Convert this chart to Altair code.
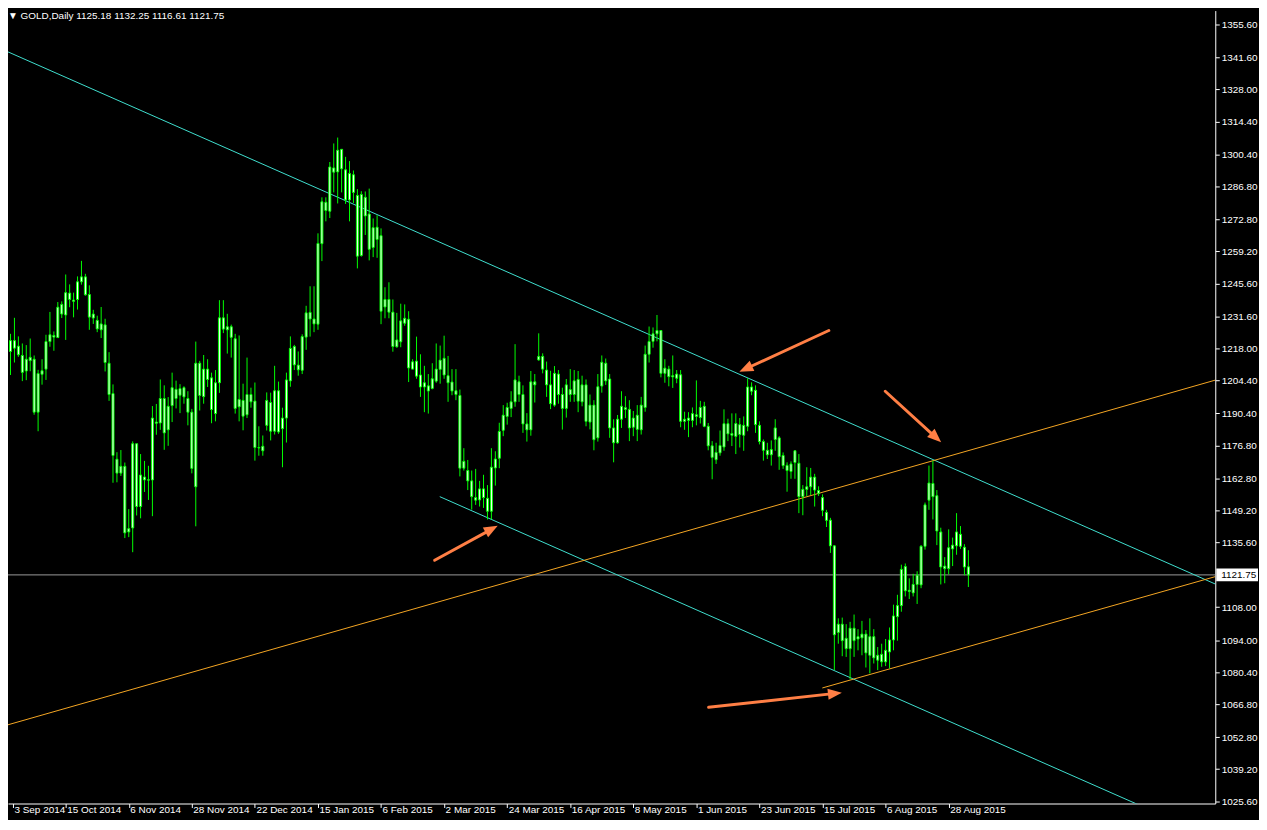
import math
import altair as alt
import pandas as pd

# ---------------- data ----------------
OPEN = [
    1222.6, 1216.7, 1221.3, 1218.95, 1215.0, 1208.4, 1212.8, 1213.4, 1190.9, 1207.0,
    1209.2, 1220.9, 1223.5, 1222.6, 1236.7, 1232.2, 1241.5, 1238.55, 1238.8, 1246.3,
    1248.4, 1240.9, 1230.9, 1229.9, 1225.9, 1228.0, 1211.7, 1198.8, 1170.9, 1165.0,
    1167.9, 1140.0, 1141.7, 1177.5, 1150.8, 1163.35, 1162.2, 1162.1, 1186.7, 1186.3,
    1196.7, 1183.4, 1193.7, 1200.6, 1198.1, 1201.3, 1196.7, 1190.9, 1159.2, 1211.7,
    1197.5, 1209.2, 1205.5, 1190.3, 1203.4, 1231.0, 1225.9, 1227.2, 1222.1, 1193.2,
    1195.9, 1189.8, 1198.4, 1195.6, 1175.9, 1174.5, 1185.3, 1195.0, 1182.8, 1200.0,
    1183.9, 1188.4, 1204.2, 1218.8, 1210.9, 1208.7, 1222.8, 1233.3, 1230.5, 1228.3,
    1262.5, 1280.1, 1276.3, 1294.7, 1293.0, 1302.6, 1293.9, 1281.1, 1291.8, 1283.0,
    1257.5, 1282.2, 1275.1, 1260.9, 1269.5, 1265.9, 1235.6, 1238.8, 1233.4, 1218.7,
    1220.8, 1228.7, 1230.4, 1209.2, 1212.6, 1206.7, 1201.6, 1202.1, 1201.0, 1204.1,
    1209.1, 1213.8, 1206.4, 1203.7, 1200.0, 1198.0, 1167.1, 1166.1, 1161.7, 1154.6,
    1153.6, 1158.3, 1154.3, 1148.8, 1167.2, 1171.3, 1183.2, 1189.1, 1192.5, 1195.3,
    1203.8, 1198.4, 1185.9, 1183.4, 1203.8, 1213.1, 1214.6, 1208.8, 1202.5, 1193.9,
    1207.1, 1198.4, 1192.5, 1200.5, 1198.4, 1204.8, 1195.3, 1202.5, 1186.7, 1193.9,
    1180.0, 1202.0, 1211.7, 1205.0, 1184.2, 1177.9, 1187.9, 1192.8, 1192.1, 1184.5,
    1189.6, 1183.4, 1192.9, 1215.5, 1221.0, 1224.2, 1225.6, 1207.4, 1209.2, 1205.9,
    1207.1, 1206.8, 1187.0, 1188.4, 1187.4, 1189.8, 1188.6, 1193.4, 1184.9, 1176.6,
    1170.7, 1173.6, 1176.1, 1186.0, 1181.8, 1180.6, 1185.6, 1181.1, 1184.9, 1201.6,
    1200.2, 1185.3, 1178.4, 1174.7, 1172.8, 1179.3, 1180.0, 1172.5, 1168.3, 1165.7,
    1169.5, 1169.2, 1155.0, 1158.1, 1159.2, 1163.3, 1157.6, 1154.6, 1148.3, 1145.0,
    1134.1, 1097.3, 1100.8, 1094.8, 1090.4, 1099.1, 1094.5, 1095.0, 1096.6, 1087.6,
    1095.5, 1085.5, 1088.0, 1084.8, 1089.0, 1094.1, 1104.0, 1108.7, 1125.3, 1115.2,
    1114.1, 1117.7, 1117.5, 1133.9, 1153.5, 1160.6, 1155.4, 1140.0, 1125.5, 1124.4,
    1132.8, 1134.1, 1139.0, 1133.5, 1125.18,
]
HIGH = [
    1225.9, 1224.2, 1231.0, 1223.1, 1220.1, 1219.4, 1222.2, 1215.0, 1208.9, 1213.4,
    1223.8, 1233.5, 1225.2, 1237.7, 1238.0, 1249.4, 1245.2, 1241.7, 1248.6, 1255.2,
    1249.7, 1244.8, 1234.4, 1231.9, 1235.6, 1230.6, 1216.4, 1202.7, 1173.9, 1174.8,
    1169.5, 1149.7, 1178.5, 1177.5, 1173.1, 1170.2, 1168.1, 1193.5, 1194.4, 1204.8,
    1202.3, 1197.3, 1207.7, 1204.3, 1202.8, 1201.9, 1199.8, 1192.3, 1220.9, 1212.7,
    1215.2, 1213.4, 1207.7, 1208.8, 1238.5, 1238.5, 1232.7, 1228.1, 1224.2, 1223.5,
    1203.0, 1214.1, 1201.3, 1203.5, 1184.9, 1181.0, 1199.3, 1199.2, 1210.6, 1203.9,
    1192.8, 1207.7, 1223.1, 1219.5, 1216.7, 1224.0, 1236.1, 1244.4, 1244.4, 1266.9,
    1282.2, 1282.2, 1297.2, 1305.1, 1307.6, 1302.6, 1299.4, 1297.6, 1293.6, 1285.7,
    1284.8, 1284.7, 1285.9, 1273.2, 1274.6, 1269.0, 1244.0, 1246.1, 1238.8, 1233.1,
    1237.0, 1236.7, 1233.8, 1213.4, 1223.0, 1215.5, 1210.6, 1207.1, 1211.7, 1220.1,
    1219.2, 1223.4, 1214.8, 1209.2, 1209.2, 1200.5, 1175.6, 1170.6, 1166.1, 1166.8,
    1161.7, 1164.3, 1159.9, 1175.6, 1174.3, 1186.4, 1193.9, 1194.9, 1199.8, 1219.8,
    1206.4, 1202.3, 1190.5, 1208.4, 1207.1, 1224.4, 1215.9, 1212.4, 1208.5, 1210.5,
    1208.8, 1201.3, 1205.0, 1209.2, 1208.8, 1208.4, 1206.4, 1204.8, 1198.4, 1196.0,
    1207.1, 1215.0, 1213.7, 1207.1, 1187.9, 1189.7, 1199.8, 1197.7, 1196.0, 1191.4,
    1193.9, 1197.4, 1219.2, 1227.3, 1226.9, 1232.2, 1225.6, 1213.4, 1210.6, 1215.0,
    1208.8, 1208.8, 1191.1, 1190.9, 1192.9, 1204.4, 1195.7, 1195.3, 1186.3, 1178.6,
    1177.9, 1183.1, 1192.1, 1188.1, 1190.4, 1190.4, 1188.4, 1189.1, 1205.3, 1203.6,
    1202.3, 1187.0, 1179.3, 1177.9, 1178.9, 1187.9, 1180.7, 1173.8, 1169.6, 1170.0,
    1174.7, 1173.1, 1159.9, 1167.5, 1167.2, 1164.7, 1159.4, 1156.0, 1149.4, 1146.0,
    1134.4, 1103.3, 1103.6, 1100.8, 1101.8, 1104.9, 1098.7, 1102.2, 1098.3, 1103.3,
    1098.7, 1091.1, 1092.5, 1094.5, 1099.4, 1109.1, 1113.3, 1126.1, 1126.6, 1120.3,
    1122.2, 1123.3, 1134.4, 1152.5, 1168.2, 1170.3, 1157.8, 1141.8, 1129.3, 1141.1,
    1137.6, 1148.0, 1142.5, 1134.8, 1132.25,
]
LOW = [
    1215.3, 1206.7, 1212.0, 1214.4, 1204.1, 1204.5, 1208.3, 1189.8, 1182.8, 1202.6,
    1204.6, 1218.7, 1217.0, 1222.6, 1230.9, 1221.6, 1235.5, 1231.2, 1234.5, 1245.1,
    1240.4, 1225.9, 1228.4, 1224.9, 1222.4, 1208.2, 1195.7, 1160.9, 1161.1, 1163.8,
    1137.4, 1137.8, 1131.4, 1147.0, 1145.8, 1157.0, 1153.6, 1146.7, 1181.3, 1183.4,
    1174.9, 1176.6, 1186.7, 1192.5, 1190.5, 1194.5, 1185.3, 1164.9, 1142.4, 1191.6,
    1194.5, 1201.6, 1186.2, 1187.0, 1199.1, 1224.5, 1215.8, 1214.1, 1190.3, 1187.0,
    1183.2, 1188.4, 1192.8, 1170.3, 1172.4, 1172.4, 1183.1, 1178.9, 1181.4, 1181.7,
    1167.5, 1178.0, 1201.7, 1208.8, 1206.4, 1207.1, 1217.4, 1223.0, 1224.9, 1225.9,
    1255.1, 1272.0, 1273.4, 1284.3, 1279.6, 1284.3, 1279.4, 1272.0, 1279.8, 1252.0,
    1257.0, 1266.2, 1255.4, 1256.8, 1256.5, 1228.3, 1230.8, 1230.8, 1216.6, 1218.3,
    1218.5, 1227.6, 1203.7, 1209.2, 1205.1, 1197.4, 1190.9, 1190.3, 1200.6, 1203.4,
    1203.0, 1205.1, 1195.3, 1198.1, 1196.0, 1163.6, 1166.1, 1157.8, 1149.5, 1151.5,
    1150.8, 1150.2, 1145.3, 1145.3, 1159.7, 1167.1, 1180.7, 1185.6, 1188.8, 1193.2,
    1195.3, 1182.1, 1178.4, 1180.9, 1195.0, 1212.8, 1207.4, 1197.4, 1192.2, 1193.2,
    1194.5, 1183.5, 1188.6, 1195.3, 1195.3, 1190.9, 1193.4, 1184.9, 1183.6, 1174.7,
    1178.4, 1199.2, 1202.5, 1180.0, 1169.6, 1177.5, 1184.2, 1188.4, 1178.6, 1180.7,
    1178.6, 1181.4, 1191.1, 1212.0, 1218.3, 1221.0, 1205.7, 1203.4, 1201.9, 1201.2,
    1203.2, 1184.5, 1183.4, 1180.3, 1184.5, 1185.3, 1186.1, 1184.5, 1174.7, 1162.4,
    1168.9, 1172.4, 1174.5, 1178.6, 1176.5, 1173.1, 1175.9, 1174.5, 1182.8, 1198.1,
    1182.1, 1177.2, 1170.3, 1171.0, 1168.2, 1174.5, 1166.4, 1166.8, 1157.1, 1162.6,
    1162.6, 1148.0, 1147.1, 1155.3, 1155.7, 1150.8, 1155.3, 1146.7, 1142.1, 1131.1,
    1081.3, 1092.5, 1087.2, 1086.9, 1077.4, 1086.9, 1089.7, 1087.6, 1082.4, 1079.9,
    1084.1, 1081.3, 1082.7, 1083.0, 1082.0, 1089.7, 1093.8, 1106.1, 1112.6, 1111.5,
    1112.6, 1109.4, 1116.1, 1132.5, 1149.4, 1145.3, 1134.4, 1117.7, 1118.2, 1122.0,
    1125.5, 1130.3, 1132.8, 1121.6, 1116.61,
]
CLOSE = [
    1216.7, 1221.3, 1218.1, 1215.3, 1207.8, 1213.4, 1214.2, 1190.9, 1207.3, 1208.5,
    1220.9, 1223.8, 1222.8, 1235.5, 1232.6, 1241.7, 1238.8, 1238.0, 1246.3, 1248.4,
    1240.8, 1231.3, 1232.6, 1226.3, 1228.4, 1212.0, 1198.4, 1172.5, 1165.0, 1167.9,
    1139.6, 1141.4, 1177.5, 1150.8, 1164.2, 1162.1, 1162.0, 1188.4, 1186.2, 1196.7,
    1182.1, 1193.4, 1201.3, 1196.7, 1200.9, 1197.4, 1190.9, 1167.0, 1211.7, 1198.0,
    1209.2, 1204.8, 1192.0, 1203.4, 1231.0, 1226.2, 1227.2, 1222.7, 1192.5, 1196.3,
    1189.2, 1198.4, 1195.3, 1175.9, 1175.7, 1176.4, 1195.9, 1182.8, 1200.0, 1182.5,
    1188.4, 1204.6, 1218.0, 1211.0, 1208.9, 1223.0, 1233.1, 1230.5, 1228.4, 1262.6,
    1280.3, 1276.6, 1295.1, 1292.9, 1302.2, 1294.3, 1281.1, 1292.3, 1284.3, 1257.2,
    1283.4, 1274.3, 1260.1, 1269.3, 1264.3, 1233.8, 1238.8, 1233.4, 1218.8, 1221.6,
    1229.7, 1230.8, 1209.7, 1212.3, 1206.2, 1201.6, 1203.4, 1199.9, 1205.1, 1209.2,
    1213.0, 1206.7, 1203.4, 1199.9, 1198.4, 1167.1, 1170.0, 1161.7, 1155.0, 1153.5,
    1158.3, 1154.6, 1148.8, 1167.5, 1171.0, 1182.7, 1189.6, 1192.9, 1195.3, 1204.6,
    1198.4, 1185.9, 1183.4, 1203.8, 1202.5, 1214.6, 1209.2, 1202.5, 1194.5, 1207.4,
    1198.4, 1192.5, 1202.5, 1198.4, 1204.2, 1195.6, 1202.5, 1187.0, 1193.9, 1179.2,
    1201.7, 1212.1, 1204.2, 1184.2, 1177.9, 1187.9, 1193.4, 1192.1, 1184.2, 1188.4,
    1183.6, 1193.9, 1215.5, 1220.9, 1224.2, 1225.6, 1207.4, 1209.6, 1206.0, 1206.4,
    1205.3, 1187.0, 1187.9, 1187.4, 1190.3, 1189.1, 1192.9, 1184.9, 1176.6, 1171.7,
    1173.8, 1176.7, 1186.0, 1181.7, 1181.1, 1186.1, 1181.4, 1185.3, 1201.6, 1199.8,
    1185.6, 1178.4, 1174.7, 1172.8, 1175.0, 1184.2, 1172.0, 1168.2, 1166.1, 1168.9,
    1174.5, 1155.0, 1158.1, 1159.2, 1163.3, 1157.8, 1156.4, 1149.2, 1144.9, 1134.1,
    1096.3, 1100.8, 1093.8, 1090.4, 1099.1, 1093.8, 1095.5, 1096.6, 1088.6, 1095.5,
    1086.5, 1087.6, 1084.8, 1089.7, 1094.1, 1104.3, 1108.7, 1124.1, 1115.0, 1114.7,
    1117.7, 1121.6, 1133.9, 1151.5, 1160.8, 1155.0, 1140.4, 1125.1, 1124.4, 1133.3,
    1134.4, 1140.0, 1133.9, 1125.1, 1121.75,
]

SYMBOL = "GOLD,Daily"

X_TICK_IDX = [1.625, 15, 31, 47, 63, 79, 95, 111, 127, 143, 159, 175, 191, 207, 223, 239]
X_TICK_LBL = ["3 Sep 2014", "15 Oct 2014", "6 Nov 2014", "28 Nov 2014", "22 Dec 2014",
              "15 Jan 2015", "6 Feb 2015", "2 Mar 2015", "24 Mar 2015", "16 Apr 2015",
              "8 May 2015", "1 Jun 2015", "23 Jun 2015", "15 Jul 2015", "6 Aug 2015",
              "28 Aug 2015"]
Y_TICKS = [1355.60, 1341.60, 1328.00, 1314.40, 1300.40, 1286.80, 1272.80, 1259.20,
           1245.60, 1231.60, 1218.00, 1204.40, 1190.40, 1176.80, 1162.80, 1149.20,
           1135.60, 1108.00, 1094.00, 1080.40, 1066.80, 1052.80, 1039.20, 1025.60]

# trend lines: (bar index, price) end points
TL_I1 = [-0.375, 109.9, -0.375, 206.95]
TL_P1 = [1344.55, 1155.0, 1057.7, 1073.7]
TL_I2 = [306.6, 306.6, 306.6, 306.6]
TL_P2 = [1117.9, 1009.7, 1204.5, 1121.0]
TL_KIND = ["cyan", "cyan", "orange", "orange"]

# arrows: tail -> tip (bar index, price)
AR_TAIL_I = [208.6, 222.9, 108.6, 178.1]
AR_TAIL_P = [1225.6, 1199.8, 1128.0, 1065.5]
AR_TIP_I = [185.9, 237.1, 124.6, 211.9]
AR_TIP_P = [1208.1, 1178.1, 1142.6, 1071.7]

# ---------------- layout / style ----------------
W, H = 1215, 798
XMIN, XMAX = 1.625, 1.625 + W / 4.0
YMIN, YMAX = 1024.6, 1361.56
PX_I = W / (XMAX - XMIN)
PX_P = H / (YMAX - YMIN)

GREEN = "#00FF00"
CYAN = "#40E0D0"
ORANGE = "#F5A623"
ARROW = "#FF7F45"
GRID_GRAY = "#9A9A9A"
FONT = "Liberation Sans, DejaVu Sans"
FS = 10

n = len(CLOSE)
candles = pd.DataFrame({
    "i": list(range(n)),
    "open": OPEN, "high": HIGH, "low": LOW, "close": CLOSE,
})
candles["body_lo"] = candles[["open", "close"]].min(axis=1)
candles["body_hi"] = candles[["open", "close"]].max(axis=1)

xs = alt.Scale(domain=[XMIN, XMAX], nice=False, zero=False)
ys = alt.Scale(domain=[YMIN, YMAX], nice=False, zero=False)

lbl_map = "{" + ",".join(f"'{v}':'{t}'" for v, t in zip(X_TICK_IDX, X_TICK_LBL)) + "}"
X_AXIS = alt.Axis(values=X_TICK_IDX, labelExpr=f"{lbl_map}[datum.value]", title=None,
                  grid=False, domainColor="white", tickColor="white", labelColor="white",
                  tickSize=4, labelAlign="left", labelBaseline="top", labelPadding=-3,
                  labelOffset=1, labelFont=FONT, labelFontSize=FS, labelFlush=False,
                  labelOverlap=False)
Y_AXIS = alt.Axis(values=Y_TICKS, format=".2f", orient="right", title=None, grid=False,
                  domainColor="white", tickColor="white", labelColor="white", tickSize=4,
                  labelAlign="left", labelBaseline="middle", labelPadding=2,
                  labelFont=FONT, labelFontSize=FS, labelFlush=False, labelOverlap=False)


def X(field):
    return alt.X(field, type="quantitative", scale=xs, axis=X_AXIS)


def Y(field):
    return alt.Y(field, type="quantitative", scale=ys, axis=Y_AXIS)


wicks = alt.Chart(candles).mark_rule(color=GREEN, strokeWidth=1, clip=True).encode(
    x=X("i"), y=Y("low"), y2="high")
bodies = alt.Chart(candles).mark_bar(width=2, fill="white", stroke=GREEN, strokeWidth=1,
                                      clip=True).encode(
    x=X("i"), y=Y("body_lo"), y2="body_hi")

# trend lines
tl = pd.DataFrame({"i1": TL_I1, "p1": TL_P1, "i2": TL_I2, "p2": TL_P2, "kind": TL_KIND})
trend = alt.Chart(tl).mark_rule(strokeWidth=1, clip=True).encode(
    x=X("i1"), y=Y("p1"), x2="i2", y2="p2",
    color=alt.Color("kind:N", scale=alt.Scale(domain=["cyan", "orange"], range=[CYAN, ORANGE]),
                    legend=None))

# current price line + label
last = CLOSE[-1]
price_df = pd.DataFrame({"price": [last], "top": [last + 6.5 / PX_P], "bot": [last - 6.5 / PX_P],
                         "txt": [f"{last:.2f}"]})
price_line = alt.Chart(price_df).mark_rule(color=GRID_GRAY, strokeWidth=1).encode(y=Y("price"))
price_box = alt.Chart(price_df).mark_rect(color="white").encode(
    x=alt.value(W + 1), x2=alt.value(W + 43), y=Y("top"), y2="bot")
price_txt = alt.Chart(price_df).mark_text(color="black", align="left", baseline="middle",
                                          font=FONT, fontSize=FS).encode(
    x=alt.value(W + 6), y=Y("price"), text="txt:N")

# arrows
rows = []
for ti, tp, hi, hp in zip(AR_TAIL_I, AR_TAIL_P, AR_TIP_I, AR_TIP_P):
    dx = (hi - ti) * PX_I
    dy = -(hp - tp) * PX_P
    L = math.hypot(dx, dy)
    ux, uy = dx / L, dy / L
    back = 9.0
    rows.append({
        "ti": ti, "tp": tp,
        "ei": hi - ux * back / PX_I, "ep": hp + uy * back / PX_P,
        "hi": hi, "hp": hp,
        "angle": math.degrees(math.atan2(ux, -uy)) % 360,
    })
arr = pd.DataFrame(rows)
shafts = alt.Chart(arr).mark_rule(color=ARROW, strokeWidth=3, strokeCap="round").encode(
    x=X("ti"), y=Y("tp"), x2="ei", y2="ep")
heads = alt.Chart(arr).mark_point(shape="M0,0L0.8,2L-0.8,2Z", filled=True, size=196,
                                  color=ARROW, opacity=1, strokeWidth=0).encode(
    x=X("hi"), y=Y("hp"), angle=alt.Angle("angle:Q", scale=None))

# header text
head_df = pd.DataFrame({"t": [f"\u25BC {SYMBOL}  {OPEN[-1]:.2f} {HIGH[-1]:.2f} {LOW[-1]:.2f} {CLOSE[-1]:.2f}"]})
header = alt.Chart(head_df).mark_text(color="white", align="left", baseline="middle",
                                      font=FONT, fontSize=FS).encode(
    x=alt.value(0), y=alt.value(5), text="t:N")

chart = alt.layer(
    price_line, trend, wicks, bodies, shafts, heads, price_box, price_txt, header
).properties(
    width=W, height=H,
    autosize=alt.AutoSizeParams(type="none"),
    padding={"left": 0, "top": 0, "right": 44, "bottom": 14},
    background="#000000",
).configure_view(strokeWidth=0)

chart.save("out.html", embed_options={"renderer": "svg", "actions": False})
